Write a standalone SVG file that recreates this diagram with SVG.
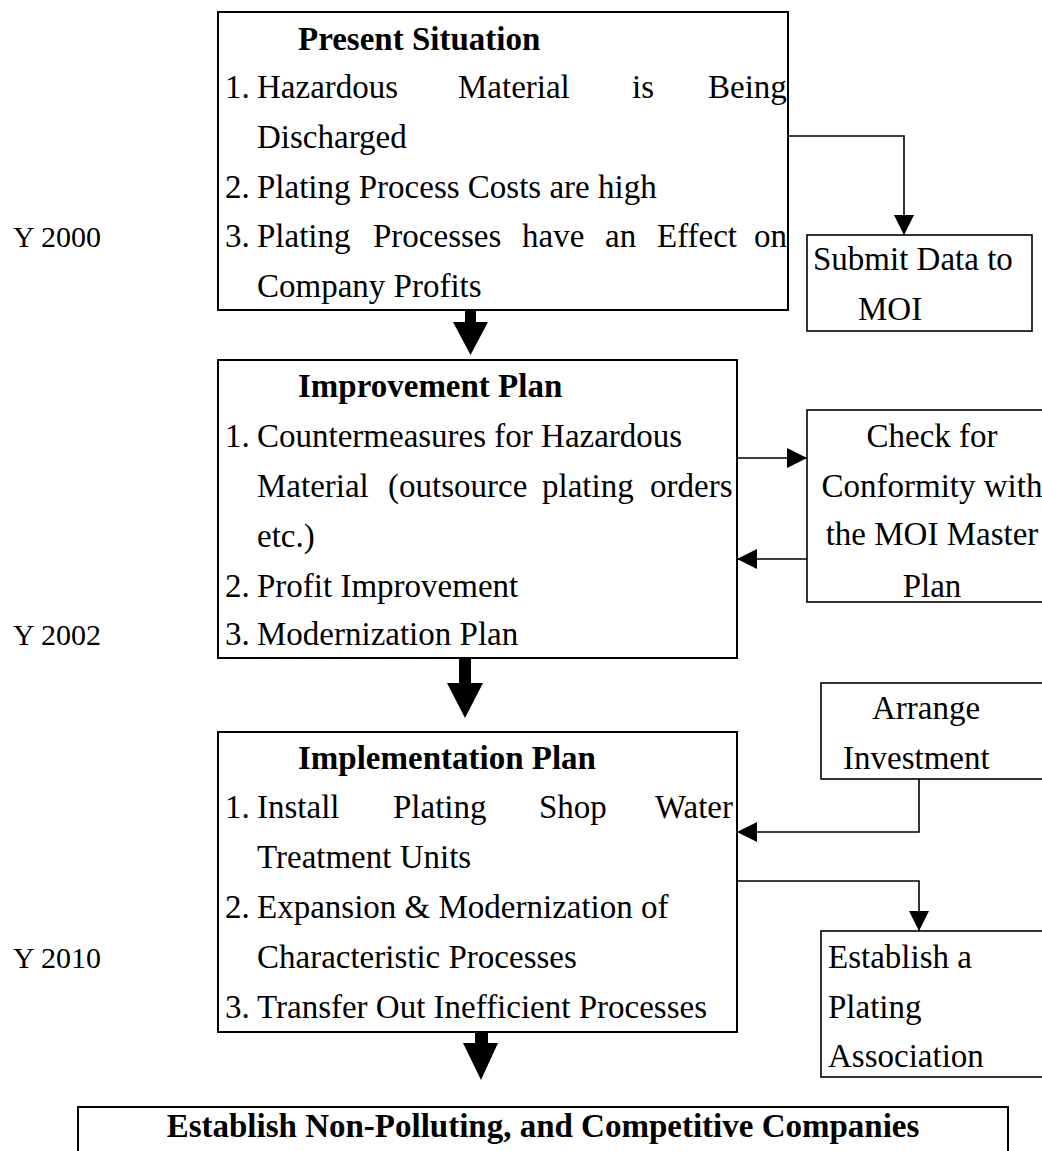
<svg xmlns="http://www.w3.org/2000/svg" width="1042" height="1151" viewBox="0 0 1042 1151">
  <style>
    .box { fill: #ffffff; stroke: #000000; stroke-width: 2; }
    .side { fill: #ffffff; stroke: #000000; stroke-width: 1.6; }
    .t { font-family: "Liberation Serif", "Times New Roman", serif; font-size: 33px; fill: #000000; }
    .b { font-weight: bold; }
    .yr { font-family: "Liberation Serif", "Times New Roman", serif; font-size: 30px; fill: #000000; }
    .wire { fill: none; stroke: #000000; stroke-width: 1.6; }
    .big { fill: #000000; stroke: none; }
  </style>
  <defs>
    <marker id="head" markerWidth="20" markerHeight="20" refX="20" refY="10" orient="auto" markerUnits="userSpaceOnUse">
      <path d="M0,0 L20,10 L0,20 Z" fill="#000000"/>
    </marker>
  </defs>

  <rect width="1042" height="1151" fill="#ffffff"/>

  <!-- year labels -->
  <g id="years">
    <text class="yr" x="13" y="247">Y 2000</text>
    <text class="yr" x="13" y="645">Y 2002</text>
    <text class="yr" x="13" y="968">Y 2010</text>
  </g>

  <!-- present situation -->
  <g id="present">
    <rect class="box" x="218" y="12" width="570" height="298"/>
    <text class="t b" x="298" y="50">Present Situation</text>
    <text class="t" y="98"><tspan x="225">1.</tspan><tspan x="257">Hazardous</tspan><tspan x="458">Material</tspan><tspan x="632">is</tspan><tspan x="708">Being</tspan></text>
    <text class="t" x="257" y="148">Discharged</text>
    <text class="t" y="198"><tspan x="225">2.</tspan><tspan x="257">Plating Process Costs are high</tspan></text>
    <text class="t" y="247"><tspan x="225">3.</tspan><tspan x="257">Plating</tspan><tspan x="373">Processes</tspan><tspan x="522">have</tspan><tspan x="605">an</tspan><tspan x="657">Effect</tspan><tspan x="754">on</tspan></text>
    <text class="t" x="257" y="297">Company Profits</text>
  </g>

  <g id="submit">
    <rect class="side" x="807" y="235" width="225" height="96"/>
    <text class="t" x="813" y="270">Submit Data to</text>
    <text class="t" x="858" y="320">MOI</text>
  </g>

  <!-- improvement plan -->
  <g id="improvement">
    <rect class="box" x="218" y="360" width="519" height="298"/>
    <text class="t b" x="298" y="397">Improvement Plan</text>
    <text class="t" y="447"><tspan x="225">1.</tspan><tspan x="257">Countermeasures for Hazardous</tspan></text>
    <text class="t" y="497"><tspan x="257">Material</tspan><tspan x="388">(outsource</tspan><tspan x="542">plating</tspan><tspan x="650">orders</tspan></text>
    <text class="t" x="257" y="547">etc.)</text>
    <text class="t" y="597"><tspan x="225">2.</tspan><tspan x="257">Profit Improvement</tspan></text>
    <text class="t" y="645"><tspan x="225">3.</tspan><tspan x="257">Modernization Plan</tspan></text>
  </g>

  <g id="check">
    <rect class="side" x="807" y="410" width="250" height="192"/>
    <text class="t" x="932" y="447" text-anchor="middle">Check for</text>
    <text class="t" x="932" y="497" text-anchor="middle">Conformity with</text>
    <text class="t" x="932" y="545" text-anchor="middle">the MOI Master</text>
    <text class="t" x="932" y="597" text-anchor="middle">Plan</text>
  </g>

  <!-- implementation plan -->
  <g id="implementation">
    <rect class="box" x="218" y="732" width="519" height="300"/>
    <text class="t b" x="298" y="769">Implementation Plan</text>
    <text class="t" y="818"><tspan x="225">1.</tspan><tspan x="257">Install</tspan><tspan x="393">Plating</tspan><tspan x="539">Shop</tspan><tspan x="655">Water</tspan></text>
    <text class="t" x="257" y="868">Treatment Units</text>
    <text class="t" y="918"><tspan x="225">2.</tspan><tspan x="257">Expansion &amp; Modernization of</tspan></text>
    <text class="t" x="257" y="968">Characteristic Processes</text>
    <text class="t" y="1018"><tspan x="225">3.</tspan><tspan x="257">Transfer Out Inefficient Processes</tspan></text>
  </g>

  <g id="arrange">
    <rect class="side" x="821" y="683" width="240" height="96"/>
    <text class="t" x="872" y="719">Arrange</text>
    <text class="t" x="843" y="769">Investment</text>
  </g>

  <g id="association">
    <rect class="side" x="821" y="931" width="240" height="146"/>
    <text class="t" x="828" y="968">Establish a</text>
    <text class="t" x="828" y="1018">Plating</text>
    <text class="t" x="828" y="1067">Association</text>
  </g>

  <!-- goal -->
  <g id="goal">
    <rect class="box" x="78" y="1107" width="930" height="60"/>
    <text class="t b" x="543" y="1137" text-anchor="middle">Establish Non-Polluting, and Competitive Companies</text>
  </g>

  <!-- connectors -->
  <g id="connectors">
    <path class="wire" d="M788,136 H904 V235" marker-end="url(#head)"/>
    <path class="wire" d="M737,458 H807" marker-end="url(#head)"/>
    <path class="wire" d="M807,559 H737" marker-end="url(#head)"/>
    <path class="wire" d="M919,779 V832 H737" marker-end="url(#head)"/>
    <path class="wire" d="M737,881 H919 V931" marker-end="url(#head)"/>
    <path class="big" d="M465,310 H476 V322 H488 L470.5,355 L453,322 H465 Z"/>
    <path class="big" d="M459,658 H471 V683 H483 L465,718 L447,683 H459 Z"/>
    <path class="big" d="M475,1032 H488 V1043 H498 L481,1080 L463,1043 H475 Z"/>
  </g>
</svg>
